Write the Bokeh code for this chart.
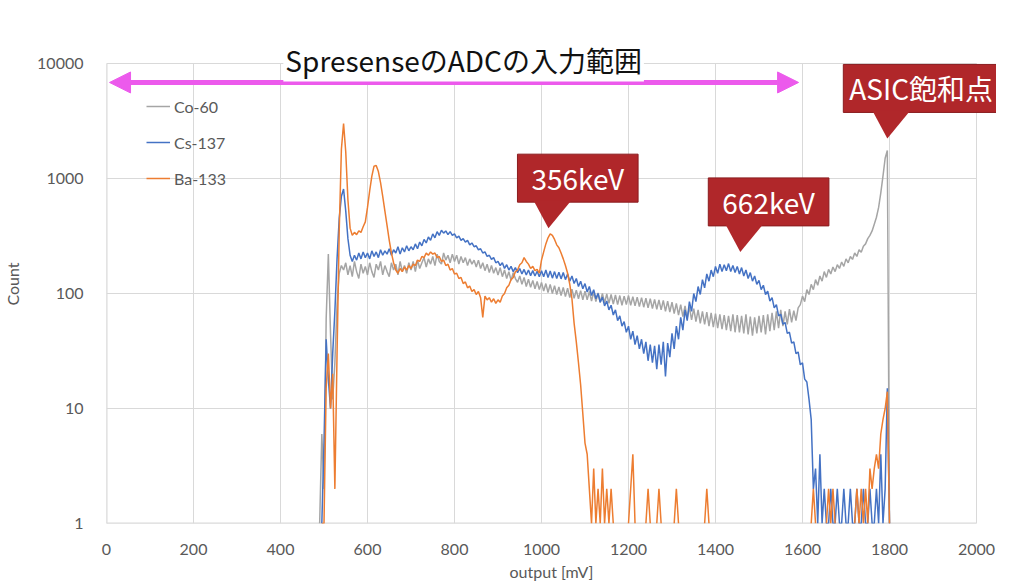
from bokeh.plotting import figure
from bokeh.models import (Label, PolyAnnotation, Arrow, NormalHead, FixedTicker,
                          PrintfTickFormatter, Legend, LegendItem, Range1d)
from bokeh.embed import file_html
from bokeh.resources import INLINE

n = float("nan")

# ADC output channels [mV], 5 mV bins
output_mv = list(range(450, 1850, 5))

co60 = [
    n, n, n, n, n, n, n, n, 1, 6,
    2, 60, 220, 45, 12, 25, 80, 150, 175, 160,
    185, 145, 175, 140, 190, 155, 135, 180, 150, 172,
    145, 185, 155, 138, 180, 160, 190, 145, 175, 155,
    140, 185, 160, 180, 145, 190, 155, 175, 150, 185,
    160, 190, 155, 195, 165, 185, 205, 170, 200, 180,
    210, 175, 220, 190, 180, 225, 195, 215, 185, 220,
    190, 215, 180, 210, 185, 205, 175, 200, 180, 195,
    170, 195, 165, 185, 158, 180, 152, 175, 150, 168,
    145, 168, 140, 160, 135, 155, 130, 152, 135, 125,
    142, 120, 138, 115, 133, 113, 130, 110, 127, 108,
    125, 105, 122, 102, 120, 100, 117, 98, 114, 96,
    113, 94, 111, 92, 109, 91, 107, 90, 106, 88,
    105, 88, 104, 86, 103, 85, 101, 84, 100, 83,
    99, 82, 98, 81, 97, 80, 96, 79, 95, 80,
    96, 79, 94, 78, 93, 77, 92, 76, 91, 75,
    90, 74, 89, 73, 88, 72, 87, 70, 86, 69,
    84, 67, 82, 65, 80, 63, 78, 61, 76, 59,
    74, 57, 72, 55, 70, 54, 69, 52, 68, 51,
    67, 50, 66, 49, 65, 48, 64, 47, 66, 46,
    65, 46, 64, 45, 66, 44, 63, 43, 62, 45,
    64, 46, 65, 44, 66, 47, 68, 48, 70, 50,
    72, 52, 70, 54, 73, 56, 71, 58, 75, 80,
    95, 85, 108, 98, 120, 108, 132, 118, 142, 128,
    155, 138, 162, 148, 170, 155, 178, 165, 188, 172,
    200, 185, 210, 198, 225, 210, 240, 228, 258, 270,
    300, 320, 350, 400, 460, 560, 750, 1050, 1500, 1750,
    1, n, n, n, n, n, n, n, n, n,
]

cs137 = [
    n, n, n, n, n, n, n, n, n, 1,
    5, 40, 18, 10, 30, 70, 200, 450, 700, 810,
    520, 300, 215, 190, 215, 195, 225, 200, 230, 205,
    225, 200, 235, 210, 230, 205, 240, 215, 235, 220,
    245, 215, 240, 225, 255, 220, 250, 230, 260, 235,
    255, 240, 270, 245, 280, 260, 295, 275, 310, 290,
    330, 305, 345, 320, 355, 335, 350, 325, 345, 320,
    330, 305, 315, 290, 300, 280, 290, 265, 275, 255,
    260, 240, 245, 225, 230, 210, 215, 198, 205, 185,
    190, 175, 185, 165, 178, 160, 172, 155, 168, 152,
    165, 148, 162, 145, 160, 143, 158, 142, 156, 140,
    158, 140, 160, 138, 157, 136, 155, 135, 153, 134,
    152, 132, 148, 128, 142, 122, 135, 115, 128, 110,
    122, 103, 115, 96, 108, 90, 100, 84, 93, 78,
    86, 72, 79, 65, 72, 58, 64, 52, 57, 46,
    52, 40, 47, 36, 43, 33, 40, 30, 38, 26,
    36, 25, 35, 22, 36, 24, 38, 19, 37, 28,
    45, 33, 52, 40, 62, 48, 72, 58, 85, 70,
    100, 85, 115, 98, 132, 112, 148, 128, 160, 140,
    172, 150, 180, 155, 178, 158, 182, 155, 175, 152,
    172, 148, 168, 142, 160, 135, 152, 128, 142, 120,
    130, 108, 118, 98, 105, 86, 92, 75, 80, 64,
    66, 54, 56, 45, 46, 37, 38, 30, 31, 24,
    25, 18, 17, 12, 8, 2, 3, 1, 4, 1,
    2, 1, 1, 2, 1, 1, 2, 1, 1, 2,
    1, 1, 2, 1, 1, 2, 1, 1, 2, 1,
    1, 2, 1, 1, 2, 1, 4, 1, 2, 15,
    1, n, n, n, n, n, n, n, n, n,
]

ba133 = [
    n, n, n, n, n, n, n, n, n, 1,
    1, 15, 30, 10, 20, 2, 30, 350, 1800, 3000,
    1700, 650, 370, 320, 340, 325, 350, 340, 380, 420,
    560, 780, 1050, 1280, 1300, 1150, 920, 700, 520, 390,
    290, 225, 185, 160, 150, 165, 155, 170, 160, 175,
    165, 180, 175, 195, 190, 210, 205, 225, 215, 230,
    220, 225, 205, 210, 190, 195, 175, 180, 160, 165,
    148, 150, 135, 138, 122, 126, 112, 116, 104, 108,
    98, 104, 92, 62, 95, 88, 92, 84, 90, 82,
    88, 84, 95, 100, 112, 118, 132, 138, 155, 160,
    178, 185, 205, 190, 180, 165, 172, 158, 162, 150,
    195, 230, 270, 305, 330, 320, 295, 265, 250, 225,
    200, 175, 150, 120, 90, 55, 38, 25, 16, 9,
    5, 4, 2, 1, 3, 1, 2, 1, 3, 1,
    2, 1, 2, 1, n, n, n, n, n, n,
    1, 2, 4, 1, n, n, n, n, 1, 2,
    1, n, n, 1, 2, 1, n, n, n, n,
    n, 1, 2, 1, n, n, n, n, n, n,
    n, n, n, n, n, 1, 2, 1, n, n,
    n, n, n, n, n, n, n, n, n, n,
    n, n, n, n, n, n, n, n, n, n,
    n, n, n, n, n, n, n, n, n, n,
    n, n, n, n, n, n, n, n, n, n,
    n, n, n, n, 1, 2, 1, n, n, n,
    n, 1, 2, 1, 2, 1, n, n, n, n,
    n, n, n, n, 1, 2, 1, 2, 1, 2,
    1, 3, 2, 3, 4, 3, 6, 8, 10, 14,
    1, n, n, n, n, n, n, n, n, n,
]

series_names = ["Co-60", "Cs-137", "Ba-133"]
series_colors = ["#a5a5a5", "#4472c4", "#ed7d31"]

x_ticks = [0, 200, 400, 600, 800, 1000, 1200, 1400, 1600, 1800, 2000]
y_ticks = [1, 10, 100, 1000, 10000]

range_text = "SpresenseのADCの入力範囲"
range_mv = [7, 1591]
range_count = 6840

peak_labels = ["356keV", "662keV", "ASIC飽和点"]
peak_mv = [1016, 1457, 1795]
peak_count = [370, 230, 2230]

assert len(co60) == len(cs137) == len(ba133) == len(output_mv)

# scale: 870 px for 0..2000 mV, 115 px per decade
px_per_mv = 870 / 2000.0
px_per_dec = 460 / 4.0
FRAME_W, FRAME_H = 890, 479          # frame extends past the data area so that callouts are not clipped
X_END = FRAME_W / px_per_mv
Y_END = 10 ** (FRAME_H / px_per_dec)

GRID = "#d9d9d9"
TXT = "#595959"
FONT = "Lato"
JP = "Noto Sans CJK JP"

p = figure(x_range=Range1d(0, X_END), y_range=Range1d(1, Y_END), y_axis_type="log",
           frame_width=FRAME_W, frame_height=FRAME_H,
           min_border_left=105, min_border_right=0, min_border_top=44, min_border_bottom=50,
           output_backend="svg", toolbar_location=None)
p.outline_line_color = None
p.background_fill_color = "white"
p.border_fill_color = "white"
p.xgrid.visible = False
p.ygrid.visible = False

xt = FixedTicker(ticks=x_ticks, minor_ticks=[])
yt = FixedTicker(ticks=y_ticks, minor_ticks=[])
p.xaxis.ticker = xt
p.yaxis.ticker = yt
p.yaxis.formatter = PrintfTickFormatter(format="%d")
for ax in (p.xaxis, p.yaxis):
    ax.axis_line_color = None
    ax.major_tick_line_color = None
    ax.minor_tick_line_color = None
    ax.major_label_text_font = FONT
    ax.major_label_text_font_size = "16px"
    ax.major_label_text_color = TXT
    ax.axis_label_text_font = FONT
    ax.axis_label_text_font_size = "16px"
    ax.axis_label_text_color = TXT
    ax.axis_label_text_font_style = "normal"
p.xaxis.major_label_standoff = 14
p.xaxis.axis_label = "output [mV]"
p.xaxis.axis_label_standoff = 4
p.yaxis.major_label_standoff = 17
p.yaxis.axis_label = "Count"
p.yaxis.axis_label_standoff = 12

# grid limited to the data area
p.segment(x0=x_ticks, y0=[y_ticks[0]] * len(x_ticks), x1=x_ticks, y1=[y_ticks[-1]] * len(x_ticks),
          line_color=GRID, line_width=1)
p.segment(x0=[x_ticks[0]] * len(y_ticks), y0=y_ticks, x1=[x_ticks[-1]] * len(y_ticks), y1=y_ticks,
          line_color=GRID, line_width=1)
# axis lines (half hidden by the frame edge, so drawn wider)
p.segment(x0=[x_ticks[0], x_ticks[0]], y0=[y_ticks[0], y_ticks[0]],
          x1=[x_ticks[-1], x_ticks[0]], y1=[y_ticks[0], y_ticks[-1]],
          line_color=GRID, line_width=2)

renderers = []
for name, ys, col in zip(series_names, [co60, cs137, ba133], series_colors):
    r = p.line(output_mv, ys, line_color=col, line_width=1.5)
    renderers.append(r)

legend = Legend(items=[LegendItem(label=nm, renderers=[r]) for nm, r in zip(series_names, renderers)],
                location=(40, 335))
legend.background_fill_alpha = 0
legend.border_line_color = None
legend.label_text_font = FONT
legend.label_text_font_size = "16px"
legend.label_text_color = TXT
legend.glyph_width = 24
legend.glyph_height = 20
legend.label_height = 20
legend.spacing = 16
legend.padding = 0
legend.margin = 0
legend.label_standoff = 4
p.add_layout(legend)

# ADC input range arrow
MAG = "#ec5aec"
p.add_layout(Arrow(start=NormalHead(size=21, fill_color=MAG, line_color=MAG),
                   end=NormalHead(size=21, fill_color=MAG, line_color=MAG),
                   x_start=range_mv[0], y_start=range_count, x_end=range_mv[1], y_end=range_count,
                   line_color=MAG, line_width=5))
p.add_layout(Label(x=(range_mv[0] + range_mv[1]) / 2 + 22, y=y_ticks[-1], y_offset=4, text=range_text,
                   text_align="center", text_baseline="middle", text_font=JP,
                   text_font_size="28px", text_color="#111111",
                   background_fill_color="white", padding=2))

# callouts
RED = "#b0272a"


def dx(px):
    return px / px_per_mv


def fy(px):
    return 10 ** (px / px_per_dec)


shifts = [-31, -32, -44]
hpads = [14, 14, 6]
for lab, mv, c, sh, hp in zip(peak_labels, peak_mv, peak_count, shifts, hpads):
    p.add_layout(Label(x=mv, y=c, x_offset=sh, y_offset=26, text=lab,
                       text_align="left", text_baseline="bottom", text_font=JP,
                       text_font_size="28px", text_color="white",
                       background_fill_color=RED, border_line_color="#8a1c1f",
                       border_line_width=1,
                       padding=dict(left=hp, right=hp, top=4, bottom=4)))
for mv, c in zip(peak_mv, peak_count):
    p.add_layout(PolyAnnotation(xs=[mv - dx(15), mv + dx(23), mv],
                                ys=[c * fy(28), c * fy(28), c],
                                fill_color=RED, fill_alpha=1, line_color=None))

open("out.html", "w").write(file_html(p, INLINE))
